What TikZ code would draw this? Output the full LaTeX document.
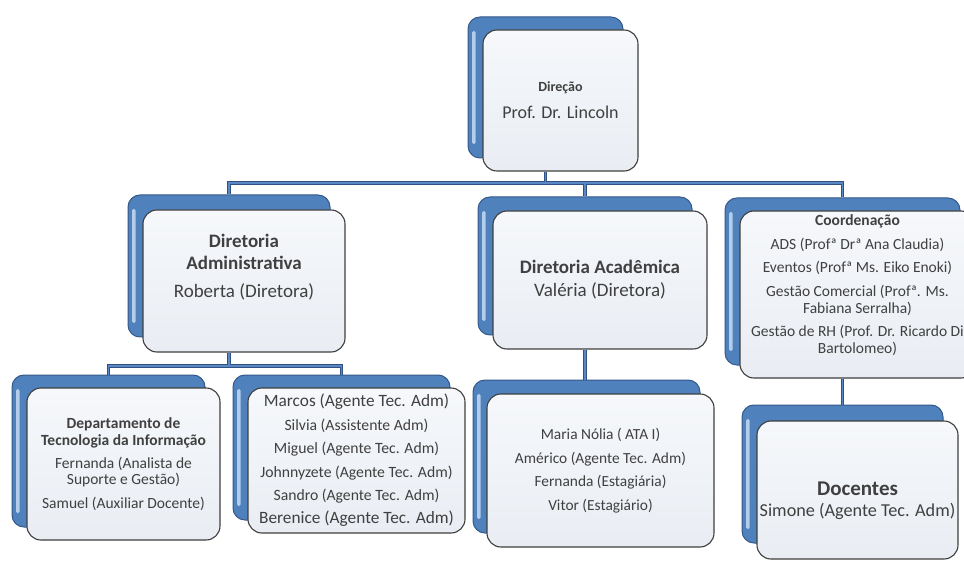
\documentclass[tikz,border=0pt]{standalone}
\usepackage{fontspec}
\setmainfont{Carlito}
\usetikzlibrary{calc}

\definecolor{backblue}{HTML}{4F81BD}
\definecolor{backedge}{HTML}{35598A}
\definecolor{hilite}{HTML}{B4CDEB}
\definecolor{frontedge}{HTML}{3F3F3F}
\definecolor{frontlight}{HTML}{F6F8FB}
\definecolor{frontfill}{HTML}{E9EDF3}
\definecolor{textgray}{HTML}{404040}
\definecolor{connblue}{HTML}{5A88C4}
\definecolor{connedge}{HTML}{2F5282}

\tikzset{
	backbox/.style={draw=backedge, line width=1pt, rounded corners=12pt, fill=backblue,
		path picture={\fill[hilite, rounded corners=1.5pt] ([xshift=4pt,yshift=-14pt]path picture bounding box.north west) rectangle ([xshift=7.5pt,yshift=14pt]path picture bounding box.south west);}},
	frontbox/.style={draw=frontedge, line width=1.1pt, rounded corners=14pt, top color=frontlight, bottom color=frontfill, align=center, text=textgray, inner sep=2pt},
	conn/.style={draw=connedge, line width=0.7pt, double=connblue, double distance=1.8pt}
}

\begin{document}
\begin{tikzpicture}[x=1pt, y=-1pt]
	\path[use as bounding box, fill=white] (0,0) rectangle (964,561);
	\clip (0,0) rectangle (964,561);

	% top
	\node[backbox, minimum width=155pt, minimum height=141pt] (dirb) at (545.5,87.5) {};
	\node[frontbox, minimum width=155pt, minimum height=141pt, font=\fontsize{18}{27}\selectfont] (dir) at ([xshift=15pt,yshift=-13pt]dirb.center) {{\fontsize{14}{27}\selectfont\bfseries Direção}\\Prof. Dr. Lincoln};

	% second row
	\node[backbox, minimum width=202pt, minimum height=142pt] (admb) at (229,266) {};
	\node[frontbox, minimum width=202pt, minimum height=142pt, font=\fontsize{19}{22}\selectfont] (adm) at ([xshift=15pt,yshift=-15pt]admb.center) {\textbf{Diretoria}\\\textbf{Administrativa}\\[6pt]Roberta (Diretora)\rule[-30pt]{0pt}{0pt}};

	\node[backbox, minimum width=214pt, minimum height=138pt] (acadb) at (585,266) {};
	\node[frontbox, minimum width=214pt, minimum height=138pt, font=\fontsize{19}{23}\selectfont] (acad) at ([xshift=15pt,yshift=-14pt]acadb.center) {\textbf{Diretoria Acadêmica}\\Valéria (Diretora)};

	\node[backbox, minimum width=235pt, minimum height=167pt] (coorb) at (842.5,281.5) {};
	\node[frontbox, minimum width=235pt, minimum height=167pt, font=\fontsize{15.5}{17}\selectfont] (coor) at ([xshift=15pt,yshift=-13pt]coorb.center) {\textbf{Coordenação}\\[6.5pt]ADS (Profª Drª Ana Claudia)\\[6.5pt]Eventos (Profª Ms. Eiko Enoki)\\[6.5pt]Gestão Comercial (Profª. Ms.\\Fabiana Serralha)\\[6.5pt]Gestão de RH (Prof. Dr. Ricardo Di\\Bartolomeo)\rule[-20pt]{0pt}{0pt}};

	% third row
	\node[backbox, minimum width=193pt, minimum height=152pt] (tib) at (108.5,451) {};
	\node[frontbox, minimum width=193pt, minimum height=152pt, font=\fontsize{15.5}{16.5}\selectfont] (ti) at ([xshift=15pt,yshift=-13pt]tib.center) {\textbf{Departamento de}\\\textbf{Tecnologia da Informação}\\[6.5pt]Fernanda (Analista de\\Suporte e Gestão)\\[7pt]Samuel (Auxiliar Docente)};

	\node[backbox, minimum width=217pt, minimum height=145pt] (equipb) at (341.5,447.5) {};
	\node[frontbox, minimum width=217pt, minimum height=145pt, font=\fontsize{15.7}{23.4}\selectfont] (equip) at ([xshift=15pt,yshift=-13pt]equipb.center) {{\fontsize{17.3}{23.4}\selectfont Marcos (Agente Tec. Adm)}\\Silvia (Assistente Adm)\\Miguel (Agente Tec. Adm)\\Johnnyzete (Agente Tec. Adm)\\Sandro (Agente Tec. Adm)\\{\fontsize{17.3}{23.4}\selectfont Berenice (Agente Tec. Adm)}};

	\node[backbox, minimum width=227pt, minimum height=153pt] (acadeqb) at (586.5,456.5) {};
	\node[frontbox, minimum width=227pt, minimum height=153pt, font=\fontsize{15.4}{23.5}\selectfont] (acadeq) at ([xshift=14pt,yshift=-14pt]acadeqb.center) {Maria Nólia ( ATA I)\\Américo (Agente Tec. Adm)\\Fernanda (Estagiária)\\Vitor (Estagiário)};

	\node[backbox, minimum width=201pt, minimum height=138pt] (docb) at (842.5,474) {};
	\node[frontbox, minimum width=201pt, minimum height=138pt, font=\fontsize{18.2}{21}\selectfont] (doc) at ([xshift=15pt,yshift=-16pt]docb.center) {\rule{0pt}{36pt}{\fontsize{21}{21}\selectfont\bfseries Docentes}\\Simone (Agente Tec. Adm)};

	% connectors
	\coordinate (bus1) at (545.5,183);
	\coordinate (bus2) at (229,366);
	\draw[conn] (dirb.south |- dir.south) -- (dirb.south |- bus1) -| (admb.north)
		(dirb.south |- bus1) -| (acadb.north)
		(dirb.south |- bus1) -| (coorb.north);
	\draw[conn] (admb.south |- adm.south) -- (admb.south |- bus2) -| (tib.north)
		(admb.south |- bus2) -| (equipb.north);
	\draw[conn] (acadb.south |- acad.south) -- (acadb.south |- acadeqb.north);
	\draw[conn] (coorb.south |- coor.south) -- (docb.north);
\end{tikzpicture}
\end{document}
